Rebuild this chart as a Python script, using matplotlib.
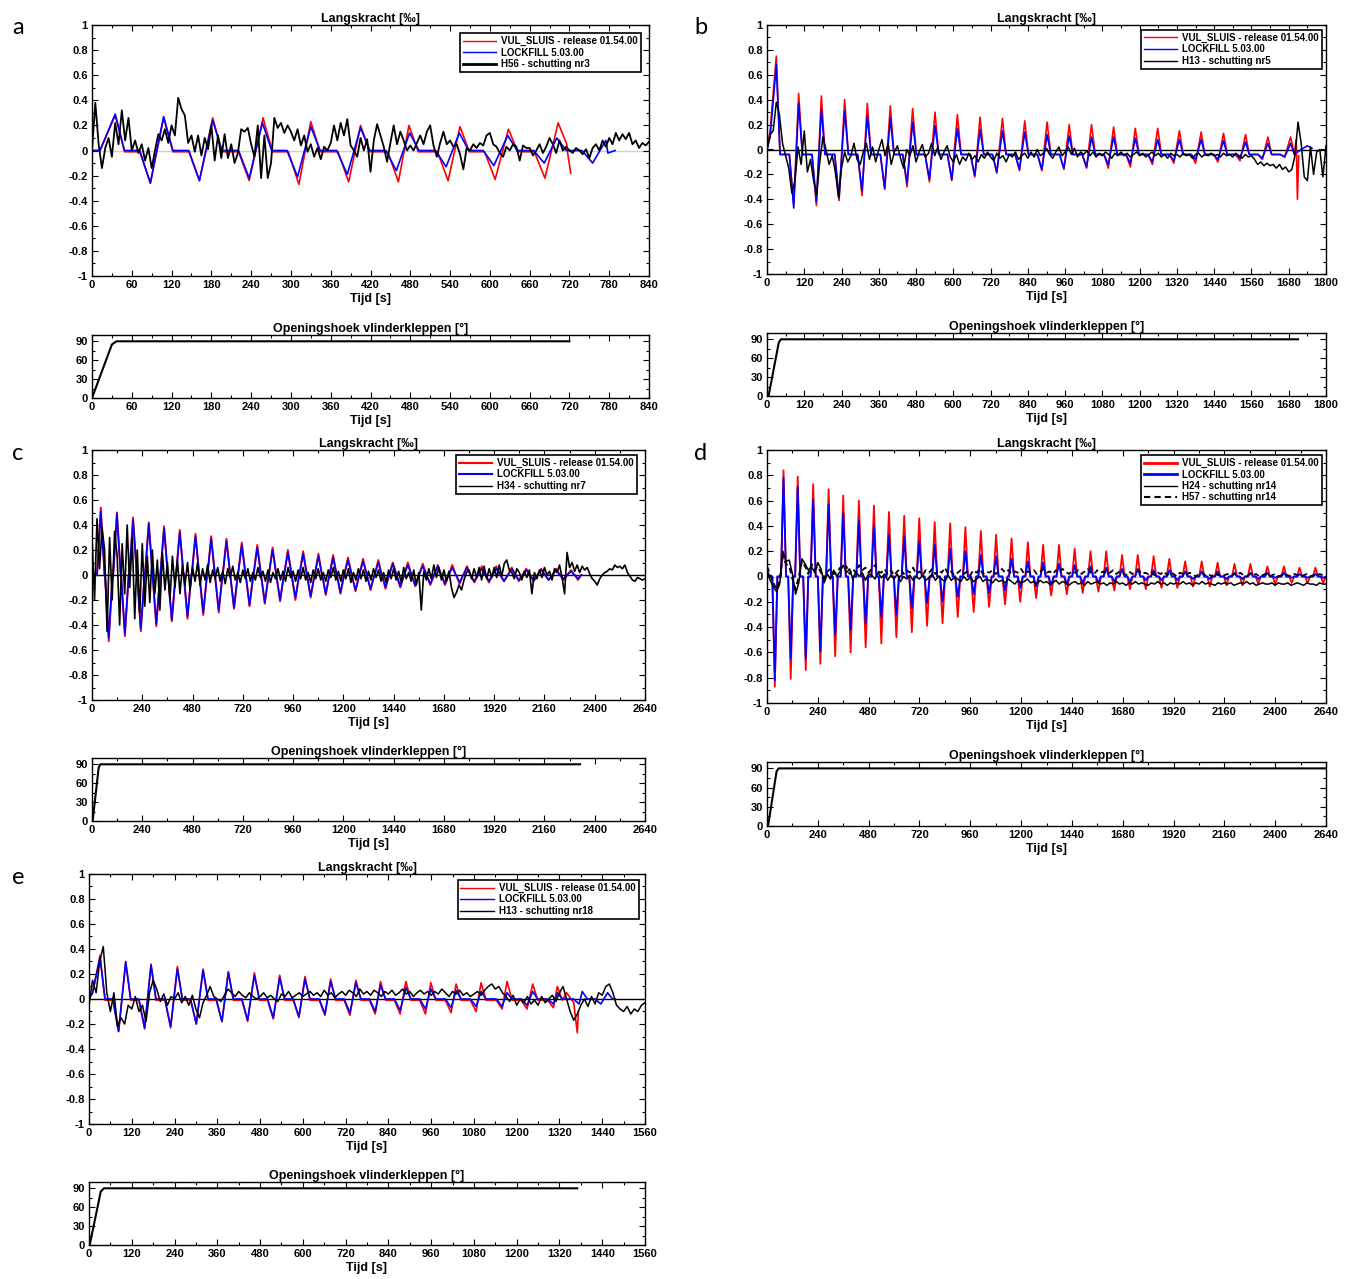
"""Langskracht en openingshoek vlinderkleppen: vijf schuttingen, VUL_SLUIS vs LOCKFILL vs meting."""

import matplotlib

matplotlib.use("Agg")
import matplotlib.pyplot as plt  # noqa: E402
import numpy as np  # noqa: E402
from matplotlib.lines import Line2D  # noqa: E402
from matplotlib.ticker import FuncFormatter, MultipleLocator  # noqa: E402

plt.rcParams["font.family"] = ["Liberation Sans", "DejaVu Sans"]
plt.rcParams["axes.unicode_minus"] = False

W, H = 1354, 1279

# ---------------------------------------------------------------- panel a (schutting nr3)
red_a_peak_t = [35, 108, 182, 258, 330, 405, 478, 555, 628, 703]
red_a_peak_v = [0.28, 0.26, 0.26, 0.26, 0.23, 0.20, 0.20, 0.19, 0.17, 0.22]
red_a_trough_t = [88, 162, 237, 312, 387, 462, 537, 608, 683]
red_a_trough_v = [-0.26, -0.24, -0.24, -0.27, -0.25, -0.25, -0.24, -0.23, -0.22]
red_a_start = [(0, 0.0), (12, 0.0)]
red_a_end = [(716, 0.05), (722, -0.18)]

blue_a_peak_t = [35, 108, 182, 257, 330, 405, 479, 554, 627, 701, 775]
blue_a_peak_v = [0.29, 0.27, 0.24, 0.22, 0.19, 0.18, 0.14, 0.14, 0.12, 0.10, 0.08]
blue_a_trough_t = [88, 162, 237, 310, 385, 459, 534, 606, 682, 755]
blue_a_trough_v = [-0.26, -0.24, -0.22, -0.21, -0.19, -0.16, -0.13, -0.12, -0.10, -0.10]
blue_a_start = [(0, 0.0), (12, 0.0)]
blue_a_end = [(778, -0.02)]

black_a = [
    0.00, 0.38, 0.05, -0.14, 0.02, 0.10, -0.05, 0.22, 0.05, 0.32, 0.08, 0.26,
    0.00, 0.08, -0.02, 0.05, -0.08, 0.02, -0.14, 0.00, 0.13, 0.08, 0.17, 0.06,
    0.20, 0.12, 0.42, 0.33, 0.28, 0.06, 0.12, -0.01, 0.12, -0.04, 0.10, 0.01,
    0.20, -0.08, 0.12, -0.06, 0.13, -0.06, 0.05, -0.10, -0.02, 0.17, 0.15, 0.18,
    0.05, -0.05, 0.20, -0.22, 0.12, -0.22, -0.10, 0.26, 0.18, 0.22, 0.14, 0.20,
    0.15, 0.08, 0.17, 0.04, 0.12, -0.01, 0.05, -0.05, 0.02, -0.07, 0.03, 0.00,
    0.06, 0.20, 0.08, 0.22, 0.12, 0.25, 0.04, 0.00, -0.05, 0.10, 0.00, 0.09,
    -0.17, 0.08, 0.21, 0.12, 0.03, -0.09, 0.06, 0.20, 0.05, 0.15, 0.08, 0.00,
    0.04, 0.00, 0.06, 0.12, 0.05, 0.15, 0.20, 0.04, -0.05, 0.06, 0.15, 0.05,
    0.08, 0.03, 0.05, -0.03, -0.15, 0.02, 0.00, 0.05, 0.02, 0.06, 0.04, 0.12,
    0.14, 0.05, 0.03, -0.02, -0.05, 0.03, 0.00, 0.05, 0.03, -0.08, 0.04, 0.02,
    0.02, -0.04, 0.00, 0.05, -0.02, 0.03, 0.10, 0.05, -0.02, 0.08, 0.00, 0.03,
    0.00, -0.02, 0.02, 0.00, -0.03, 0.01, -0.06, 0.02, 0.05, 0.00, 0.08, 0.03,
    0.10, 0.05, 0.14, 0.08, 0.13, 0.09, 0.14, 0.05, 0.08, 0.02, 0.06, 0.04,
    0.07,
]
angle_a_t = [0, 30, 37, 720]
angle_a_v = [0, 85, 90, 90]

# ---------------------------------------------------------------- panel b (schutting nr5)
peak_b_t = [30, 102, 175, 250, 323, 397, 469, 541, 613, 686, 758, 830,
            902, 973, 1045, 1116, 1186, 1258, 1328, 1398, 1470, 1541, 1613, 1686]
trough_b_t = [86, 159, 232, 306, 379, 451, 523, 595, 669, 740, 813, 885,
              956, 1029, 1099, 1170, 1241, 1310, 1380, 1452, 1523, 1595, 1667]
red_b_peak_v = [0.75, 0.45, 0.43, 0.40, 0.37, 0.35, 0.33, 0.30, 0.28, 0.26, 0.25, 0.23,
                0.22, 0.20, 0.20, 0.18, 0.17, 0.17, 0.15, 0.14, 0.13, 0.12, 0.10, 0.10]
red_b_trough_v = [-0.44, -0.45, -0.41, -0.37, -0.32, -0.30, -0.26, -0.25, -0.22, -0.19, -0.17, -0.17,
                  -0.16, -0.15, -0.15, -0.14, -0.12, -0.11, -0.11, -0.10, -0.09, -0.08, -0.06]
red_b_start = [(0, 0.0), (10, 0.15)]
red_b_end = [(1704, 0.08), (1708, -0.40), (1712, -0.05)]
blue_b_peak_v = [0.68, 0.37, 0.32, 0.31, 0.27, 0.25, 0.22, 0.19, 0.17, 0.16, 0.15, 0.14,
                 0.12, 0.11, 0.10, 0.10, 0.09, 0.08, 0.08, 0.08, 0.07, 0.06, 0.05, 0.05]
blue_b_trough_v = [-0.47, -0.42, -0.39, -0.33, -0.31, -0.27, -0.24, -0.24, -0.21, -0.18, -0.16, -0.16,
                   -0.15, -0.14, -0.12, -0.11, -0.10, -0.09, -0.08, -0.08, -0.07, -0.07, -0.06]
blue_b_start = [(0, 0.0), (10, 0.10)]
blue_b_end = [(1720, 0.0), (1740, 0.03), (1755, 0.01)]

black_b = [
    0.00, 0.12, 0.15, 0.38, 0.28, 0.05,
    -0.05, -0.15, -0.35, -0.25, 0.02, -0.12,
    0.15, -0.18, -0.08, -0.25, -0.36, -0.10,
    0.10, 0.00, -0.12, -0.05, -0.18, -0.38,
    -0.15, -0.02, -0.10, -0.05, 0.05, -0.08,
    -0.12, -0.02, 0.05, -0.08, 0.02, -0.10,
    0.00, 0.08, -0.05, 0.05, -0.12, -0.02,
    0.03, -0.07, -0.15, 0.00, -0.05, 0.03,
    -0.10, -0.02, 0.04, -0.06, -0.03, 0.05,
    -0.05, 0.02, -0.08, -0.02, 0.03, -0.06,
    -0.10, -0.04, -0.12, -0.06, -0.09, -0.03,
    -0.08, -0.05, -0.10, -0.04, -0.07, -0.02,
    -0.06, -0.09, -0.03, -0.07, -0.05, -0.10,
    -0.04, -0.06, -0.02, -0.08, -0.05, -0.03,
    -0.07, -0.02, -0.06, 0.00, -0.05, -0.03,
    0.01, -0.04, -0.07, -0.02, 0.02, -0.05,
    -0.02, 0.02, -0.04, 0.01, -0.06, -0.02,
    -0.04, -0.01, -0.05, -0.02, -0.06, -0.03,
    -0.05, -0.02, -0.04, -0.07, -0.03, -0.05,
    -0.02, -0.05, -0.03, -0.06, -0.04, -0.02,
    -0.05, -0.03, -0.06, -0.04, -0.02, -0.05,
    -0.03, -0.06, -0.04, -0.07, -0.03, -0.05,
    -0.04, -0.06, -0.03, -0.05, -0.04, -0.07,
    -0.04, -0.03, -0.06, -0.04, -0.05, -0.03,
    -0.05, -0.04, -0.06, -0.03, -0.05, -0.04,
    -0.06, -0.03, -0.05, -0.07, -0.04, -0.06,
    -0.05, -0.08, -0.12, -0.10, -0.13, -0.11,
    -0.13, -0.12, -0.15, -0.12, -0.16, -0.14,
    -0.18, -0.16, -0.05, 0.22, 0.05, -0.22,
    -0.25, 0.02, -0.20, -0.02, 0.00, -0.22,
    0.03,
]
angle_b_t = [5, 38, 45, 1710]
angle_b_v = [0, 85, 90, 90]

# ---------------------------------------------------------------- panel c (schutting nr7)
peak_c_t = [42, 119, 196, 271, 344, 419, 494, 569, 642, 715, 789, 862, 935, 1008, 1081, 1151,
            1222, 1294, 1367, 1436, 1508, 1579, 1651, 1720, 1790, 1861, 1930, 2004, 2073, 2145, 2216, 2287]
trough_c_t = [80, 157, 233, 307, 381, 456, 531, 605, 678, 752, 825, 898, 971, 1044, 1116, 1186,
              1258, 1330, 1401, 1472, 1543, 1615, 1685, 1755, 1825, 1895, 1967, 2038, 2109, 2180, 2251, 2320]
red_c_peak_v = [0.54, 0.50, 0.46, 0.42, 0.39, 0.36, 0.33, 0.31, 0.29, 0.26, 0.24, 0.22, 0.20, 0.19, 0.17, 0.16,
                0.14, 0.13, 0.12, 0.10, 0.10, 0.09, 0.08, 0.08, 0.07, 0.07, 0.07, 0.06, 0.05, 0.05, 0.05, 0.04]
red_c_trough_v = [-0.53, -0.49, -0.45, -0.41, -0.37, -0.35, -0.32, -0.30, -0.27, -0.25, -0.23, -0.21,
                  -0.20, -0.18, -0.16, -0.15, -0.13, -0.12, -0.11, -0.10, -0.09, -0.08, -0.08, -0.07,
                  -0.06, -0.06, -0.05, -0.05, -0.05, -0.04, -0.04, -0.04]
blue_c_peak_v = [0.51, 0.49, 0.44, 0.41, 0.37, 0.34, 0.31, 0.29, 0.27, 0.24, 0.22, 0.20, 0.18, 0.17, 0.15, 0.14,
                 0.12, 0.11, 0.10, 0.09, 0.08, 0.07, 0.07, 0.06, 0.06, 0.05, 0.05, 0.05, 0.04, 0.04, 0.04, 0.03]
blue_c_trough_v = [-0.50, -0.47, -0.43, -0.39, -0.36, -0.33, -0.30, -0.28, -0.26, -0.24, -0.22, -0.20,
                   -0.18, -0.17, -0.15, -0.14, -0.12, -0.11, -0.10, -0.09, -0.08, -0.07, -0.07, -0.06,
                   -0.05, -0.05, -0.05, -0.04, -0.04, -0.04, -0.03, -0.03]
sim_c_start = [(0, 0.0)]
sim_c_end = [(2335, 0.0)]

black_c = [
    0.30, -0.20, 0.45, 0.05, 0.38, 0.20, -0.45, 0.30, -0.20, 0.35,
    0.15, -0.40, 0.25, -0.15, 0.40, -0.10, 0.30, -0.35, 0.20, -0.30,
    0.25, -0.25, 0.15, -0.22, 0.20, -0.15, 0.12, -0.28, 0.18, -0.12,
    0.10, -0.20, 0.15, -0.10, 0.12, -0.15, 0.08, -0.08, 0.10, -0.12,
    0.06, -0.05, 0.10, -0.08, 0.05, -0.04, 0.08, -0.06, 0.04, -0.03,
    0.06, -0.05, 0.03, -0.07, 0.05, -0.02, 0.07, -0.04, 0.02, -0.06,
    0.04, -0.03, 0.05, -0.05, 0.02, -0.04, 0.06, -0.02, 0.03, -0.05,
    0.04, -0.06, 0.02, -0.03, 0.05, -0.04, 0.03, -0.05, 0.06, -0.02,
    0.03, -0.05, 0.04, -0.03, 0.06, -0.04, 0.02, -0.06, 0.04, -0.03,
    0.05, -0.04, 0.02, -0.05, 0.04, -0.02, 0.06, -0.04, 0.03, -0.05,
    0.04, -0.03, 0.05, -0.06, 0.02, -0.04, 0.05, -0.03, 0.04, -0.05,
    0.03, -0.04, 0.05, -0.02, 0.04, -0.05, 0.02, -0.06, 0.04, -0.03,
    0.05, -0.04, 0.03, -0.06, 0.06, -0.03, 0.02, -0.05, 0.04, -0.08,
    0.02, -0.28, 0.03, -0.04, 0.05, -0.03, 0.08, -0.02, 0.06, -0.04,
    0.04, -0.05, 0.03, -0.10, -0.18, -0.14, -0.08, -0.12, -0.04, 0.02,
    0.04, -0.03, 0.05, -0.02, 0.06, -0.04, 0.07, -0.03, 0.05, -0.02,
    0.06, -0.02, 0.08, -0.01, 0.09, 0.12, 0.04, 0.02, -0.03, 0.05,
    0.02, -0.04, 0.03, -0.02, 0.04, -0.15, 0.02, -0.03, 0.04, -0.02,
    0.06, 0.00, 0.03, -0.04, 0.05, 0.02, 0.08, -0.02, -0.15, 0.18,
    0.06, 0.10, 0.03, 0.08, 0.02, 0.07, 0.04, 0.06, 0.01, -0.03,
    -0.05, -0.08, -0.03, 0.00, 0.02, 0.03, 0.05, 0.04, 0.08, 0.06,
    0.07, 0.05, 0.08, 0.02, -0.01, -0.04, -0.05, -0.02, -0.03, -0.04,
    -0.03,
]
angle_c_t = [3, 32, 40, 2330]
angle_c_v = [0, 85, 90, 90]

# ---------------------------------------------------------------- panel d (schutting nr14)
peak_d_t = [78, 145, 218, 291, 360, 434, 505, 576, 648, 719, 792, 865, 937, 1010, 1082, 1155, 1232, 1304,
            1379, 1453, 1528, 1602, 1677, 1751, 1826, 1900, 1975, 2053, 2128, 2208, 2283, 2363, 2441, 2515, 2590]
trough_d_t = [37, 112, 183, 252, 322, 395, 466, 540, 611, 684, 756, 829, 901, 976, 1049, 1124, 1196, 1271,
              1342, 1416, 1491, 1565, 1640, 1714, 1789, 1863, 1938, 2012, 2091, 2170, 2245, 2320, 2400, 2478, 2553, 2627]
red_d_peak_v = [0.84, 0.79, 0.73, 0.69, 0.64, 0.60, 0.56, 0.51, 0.48, 0.46, 0.43, 0.42, 0.39, 0.36, 0.33, 0.30,
                0.27, 0.25, 0.25, 0.22, 0.20, 0.20, 0.17, 0.17, 0.16, 0.14, 0.12, 0.12, 0.11, 0.10, 0.10, 0.08,
                0.08, 0.07, 0.07]
red_d_trough_v = [-0.87, -0.81, -0.74, -0.69, -0.63, -0.60, -0.56, -0.53, -0.48, -0.44, -0.39, -0.37,
                  -0.32, -0.28, -0.24, -0.22, -0.20, -0.17, -0.15, -0.14, -0.13, -0.12, -0.11, -0.10,
                  -0.10, -0.09, -0.09, -0.08, -0.08, -0.07, -0.07, -0.06, -0.06, -0.05, -0.05, -0.05]
blue_d_peak_v = [0.78, 0.71, 0.61, 0.57, 0.50, 0.44, 0.40, 0.33, 0.31, 0.28, 0.25, 0.22, 0.20, 0.17, 0.16, 0.14,
                 0.12, 0.11, 0.10, 0.09, 0.08, 0.07, 0.06, 0.06, 0.05, 0.05, 0.04, 0.04, 0.04, 0.03, 0.03, 0.03,
                 0.03, 0.02, 0.02]
blue_d_trough_v = [-0.82, -0.65, -0.65, -0.59, -0.46, -0.42, -0.37, -0.32, -0.30, -0.25, -0.21, -0.20,
                   -0.16, -0.14, -0.13, -0.11, -0.09, -0.08, -0.07, -0.06, -0.05, -0.05, -0.04, -0.04,
                   -0.03, -0.03, -0.03, -0.02, -0.02, -0.02, -0.02, -0.02, -0.01, -0.01, -0.01, -0.01]
sim_d_start = [(0, 0.05), (12, 0.0)]
sim_d_end = [(2640, 0.0)]

black_d_h24 = [
    0.05, -0.03, -0.08, -0.12, -0.06, 0.20, 0.12, 0.13, 0.02, -0.14, -0.05, 0.14,
    0.10, 0.05, 0.08, 0.03, 0.11, 0.06, -0.05, 0.02, -0.02, 0.05, 0.00, 0.04,
    0.09, 0.03, 0.06, -0.02, 0.04, 0.00, 0.03, -0.03, 0.02, 0.01, -0.02, 0.03,
    -0.01, 0.02, -0.03, 0.01, -0.02, 0.02, -0.04, 0.00, -0.02, 0.01, -0.03, 0.00,
    -0.02, 0.01, -0.03, -0.01, 0.02, -0.03, 0.00, -0.02, -0.04, 0.01, -0.03, -0.01,
    -0.02, -0.04, 0.00, -0.03, -0.01, -0.04, -0.02, 0.00, -0.04, -0.02, -0.03, -0.05,
    -0.02, -0.04, -0.03, -0.05, -0.02, -0.04, -0.06, -0.03, -0.05, -0.04, -0.02, -0.05,
    -0.04, -0.06, -0.03, -0.05, -0.04, -0.06, -0.05, -0.03, -0.06, -0.04, -0.05, -0.07,
    -0.05, -0.04, -0.06, -0.05, -0.07, -0.04, -0.06, -0.05, -0.04, -0.06, -0.05, -0.07,
    -0.05, -0.06, -0.04, -0.06, -0.05, -0.07, -0.05, -0.06, -0.04, -0.06, -0.05, -0.06,
    -0.07, -0.05, -0.06, -0.04, -0.06, -0.05, -0.07, -0.05, -0.06, -0.05, -0.06, -0.04,
    -0.06, -0.05, -0.07, -0.05, -0.06, -0.04, -0.06, -0.05, -0.06, -0.07, -0.05, -0.06,
    -0.05, -0.06, -0.05, -0.07, -0.06, -0.05, -0.06, -0.04, -0.06, -0.05, -0.07, -0.06,
    -0.05, -0.06, -0.06, -0.05, -0.07, -0.05, -0.06, -0.06, -0.05, -0.07, -0.06, -0.05,
    -0.06, -0.07, -0.05, -0.06, -0.06, -0.07, -0.05, -0.06,
    -0.06,
]
black_d_h57 = [
    0.08, 0.02, -0.05, -0.10, -0.02, 0.16, 0.10, 0.08, -0.02, -0.10, 0.00, 0.12,
    0.08, 0.02, 0.10, 0.05, 0.08, 0.03, -0.02, 0.04, 0.06, 0.02, 0.03, 0.07,
    0.05, 0.08, 0.02, 0.06, 0.03, 0.09, 0.05, 0.07, 0.03, 0.06, 0.09, 0.04,
    0.03, 0.06, 0.02, 0.05, 0.01, 0.04, 0.06, 0.02, 0.05, 0.03, 0.07, 0.02,
    0.04, 0.01, 0.05, 0.03, 0.06, 0.02, 0.05, 0.03, 0.07, 0.02, 0.04, 0.01,
    0.03, 0.05, 0.02, 0.04, 0.01, 0.05, 0.03, 0.06, 0.02, 0.04, 0.03, 0.05,
    0.02, 0.04, 0.06, 0.03, 0.05, 0.02, 0.04, 0.03, 0.06, 0.02, 0.04, 0.03,
    0.05, 0.02, 0.04, 0.06, 0.03, 0.04, 0.02, 0.05, 0.03, 0.06, 0.04, 0.02,
    0.04, 0.03, 0.05, 0.02, 0.04, 0.06, 0.03, 0.02, 0.05, 0.03, 0.04, 0.02,
    0.03, 0.05, 0.02, 0.04, 0.03, 0.01, 0.04, 0.02, 0.03, 0.05, 0.02, 0.03,
    0.02, 0.04, 0.01, 0.03, 0.02, 0.04, 0.01, 0.03, 0.02, 0.00, 0.03, 0.02,
    0.01, 0.03, 0.02, 0.00, 0.02, 0.03, 0.01, 0.02, 0.00, 0.03, 0.01, 0.02,
    0.01, 0.02, 0.00, 0.02, 0.01, 0.03, 0.01, 0.00, 0.02, 0.01, 0.02, 0.00,
    0.01, 0.02, 0.00, 0.01, 0.02, 0.00, 0.01, 0.02, 0.01, 0.00, 0.02, 0.01,
    0.00, 0.01, 0.02, 0.00, 0.01, 0.00, 0.02, 0.01,
    0.01,
]
angle_d_t = [5, 45, 55, 2640]
angle_d_v = [0, 85, 90, 90]

# ---------------------------------------------------------------- panel e (schutting nr18)
red_e_peak_t = [31, 103, 174, 248, 320, 391, 464, 535, 606, 678, 749, 818, 889, 959, 1030, 1100, 1173, 1245, 1314]
red_e_peak_v = [0.35, 0.29, 0.28, 0.26, 0.24, 0.22, 0.21, 0.19, 0.18, 0.16, 0.15, 0.14, 0.14, 0.13, 0.12,
                0.13, 0.14, 0.12, 0.10]
red_e_trough_t = [83, 156, 229, 301, 373, 445, 517, 589, 662, 732, 803, 873, 944, 1016, 1086, 1159, 1229, 1303]
red_e_trough_v = [-0.26, -0.24, -0.23, -0.20, -0.18, -0.18, -0.16, -0.15, -0.13, -0.13, -0.12, -0.12,
                  -0.12, -0.11, -0.10, -0.08, -0.08, -0.07]
red_e_start = [(0, 0.0), (10, 0.05)]
red_e_end = [(1340, 0.05), (1360, -0.03), (1370, -0.27), (1373, -0.10)]

blue_e_peak_t = [31, 103, 174, 248, 320, 391, 464, 535, 606, 678, 749, 818, 889, 959, 1030, 1100,
                 1173, 1245, 1314, 1384, 1455]
blue_e_peak_v = [0.33, 0.30, 0.27, 0.24, 0.23, 0.21, 0.19, 0.17, 0.16, 0.14, 0.13, 0.11, 0.09, 0.08, 0.07,
                 0.06, 0.05, 0.06, 0.05, 0.06, 0.05]
blue_e_trough_t = [83, 156, 229, 301, 373, 445, 517, 589, 662, 732, 803, 873, 944, 1016, 1086, 1159,
                   1229, 1303, 1375, 1436]
blue_e_trough_v = [-0.26, -0.23, -0.22, -0.20, -0.18, -0.17, -0.15, -0.14, -0.12, -0.11, -0.10, -0.09,
                   -0.08, -0.07, -0.06, -0.06, -0.05, -0.04, -0.04, -0.04]
blue_e_start = [(0, 0.0), (10, 0.05)]
blue_e_end = [(1476, 0.0)]

black_e = [
    -0.05, 0.15, 0.05, 0.30, 0.42, 0.05, -0.10, 0.05, -0.22, -0.15, -0.20, -0.05,
    -0.08, 0.02, -0.10, -0.05, -0.18, 0.05, 0.15, 0.08, -0.02, 0.04, -0.05, 0.02,
    0.00, 0.05, -0.03, 0.02, -0.05, 0.03, -0.08, -0.15, -0.03, 0.03, 0.10, 0.02,
    0.00, -0.02, 0.03, 0.08, 0.05, 0.02, 0.06, 0.03, 0.01, 0.05, 0.02, 0.00,
    0.02, 0.05, 0.01, 0.03, 0.00, -0.02, 0.04, 0.02, 0.06, 0.01, 0.03, 0.05,
    0.02, 0.04, 0.06, 0.03, 0.05, 0.02, 0.07, 0.03, 0.05, 0.01, 0.04, 0.06,
    0.03, 0.07, 0.05, 0.02, 0.08, 0.04, 0.06, 0.03, 0.07, 0.05, 0.02, 0.06,
    0.04, 0.07, 0.03, 0.05, 0.08, 0.04, 0.06, 0.02, 0.05, 0.07, 0.04, 0.06,
    0.03, 0.06, 0.04, 0.08, 0.05, 0.02, 0.06, 0.04, 0.07, 0.03, 0.05, 0.02,
    0.04, 0.06, 0.03, 0.07, 0.10, 0.12, 0.08, 0.10, 0.05, 0.02, -0.02, 0.03,
    -0.05, 0.00, -0.03, 0.02, -0.04, -0.01, -0.05, 0.02, -0.03, 0.00, 0.03, -0.02,
    0.05, 0.10, 0.00, -0.10, -0.17, -0.12, -0.05, 0.00, -0.06, 0.02, -0.04, 0.05,
    0.03, 0.10, 0.12, 0.05, -0.05, -0.08, -0.10, -0.06, -0.12, -0.08, -0.10, -0.05,
    -0.03,
]
angle_e_t = [2, 33, 42, 1370]
angle_e_v = [0, 85, 90, 90]

RED, BLUE, BLACK = "#ff0000", "#0000ff", "#000000"


def spike_line(start, peak_t, peak_v, trough_t, trough_v, end, level, peak_pad, trough_pad):
    """Polyline through read extremes; pads place the flat level either side of a spike."""
    pts = list(start) + list(end)
    for ts, vs, (before, after) in ((peak_t, peak_v, peak_pad), (trough_t, trough_v, trough_pad)):
        for t, v in zip(ts, vs):
            pts.append((t, v))
            if before:
                pts.append((t - before, level))
            if after:
                pts.append((t + after, level))
    pts.sort()
    t, y = zip(*pts)
    return np.array(t), np.array(y)


def rect(l, t, r, b):
    return [l / W, 1 - b / H, (r - l) / W, (b - t) / H]


tick_fmt = FuncFormatter(lambda v, _: f"{round(v, 6):g}")


def style_axes(ax, xmax, major, ymajor, yminor, ylim):
    ax.set_xlim(0, xmax)
    ax.set_ylim(*ylim)
    ax.xaxis.set_major_locator(MultipleLocator(major))
    ax.xaxis.set_minor_locator(MultipleLocator(major / 2))
    ax.yaxis.set_major_locator(MultipleLocator(ymajor))
    ax.yaxis.set_minor_locator(MultipleLocator(yminor))
    ax.yaxis.set_major_formatter(tick_fmt)
    ax.tick_params(which="both", direction="in", top=True, right=True, width=0.8,
                   labelsize=8, pad=3)
    ax.tick_params(which="major", length=4)
    ax.tick_params(which="minor", length=2.2)
    for lab in ax.get_xticklabels() + ax.get_yticklabels():
        lab.set_fontweight("bold")
    for sp in ax.spines.values():
        sp.set_linewidth(1.0)
    ax.set_xlabel("Tijd [s]", fontsize=9, fontweight="bold", labelpad=2)


def panel(fig, main_box, sub_box, xmax, major, lines, legend, anchor, zero_color,
          angle_t, angle_v, letter, letter_xy):
    ax = fig.add_axes(rect(*main_box))
    ax.axhline(0, color=zero_color, lw=1.0, zorder=1)
    for t, y, kw in lines:
        ax.plot(t, y, zorder=2, **kw)
    style_axes(ax, xmax, major, 0.2, 0.1, (-1, 1))
    ax.set_title("Langskracht [‰]", fontsize=9, fontweight="bold", pad=2)
    handles = [Line2D([], [], **kw) for kw in legend]
    leg = ax.legend(handles=handles, loc="upper right", bbox_to_anchor=anchor, borderaxespad=0,
                    prop={"weight": "bold", "size": 7}, handlelength=3.4,
                    handletextpad=0.6, labelspacing=0.15, borderpad=0.3, fancybox=False,
                    framealpha=1)
    leg.get_frame().set_edgecolor("black")
    leg.get_frame().set_linewidth(1.2)

    sub = fig.add_axes(rect(*sub_box))
    sub.plot(angle_t, angle_v, color=BLACK, lw=1.5)
    style_axes(sub, xmax, major, 30, 15, (0, 100))
    sub.set_title("Openingshoek vlinderkleppen [°]", fontsize=9, fontweight="bold", pad=2)

    fig.text(letter_xy[0] / W, 1 - letter_xy[1] / H, letter, fontsize=17,
             family=["Lato", "DejaVu Sans"], va="center", ha="left")


fig = plt.figure(figsize=(W / 100, H / 100), dpi=100)

# a
t_ra, y_ra = spike_line(red_a_start, red_a_peak_t, red_a_peak_v, red_a_trough_t, red_a_trough_v,
                        red_a_end, -0.01, (None, 14), (16, None))
t_ba, y_ba = spike_line(blue_a_start, blue_a_peak_t, blue_a_peak_v, blue_a_trough_t, blue_a_trough_v,
                        blue_a_end, 0.0, (None, 14), (16, None))
t_ka = np.linspace(0, 840, len(black_a))
panel(fig, (92, 25, 649, 276), (92, 335, 649, 398), 840, 60,
      [(t_ra, y_ra, dict(color=RED, lw=1.2)), (t_ba, y_ba, dict(color=BLUE, lw=1.2)),
       (t_ka, black_a, dict(color=BLACK, lw=1.3))],
      [dict(color=RED, lw=1, label="VUL_SLUIS - release 01.54.00"),
       dict(color=BLUE, lw=1, label="LOCKFILL 5.03.00"),
       dict(color=BLACK, lw=2, label="H56 - schutting nr3")],
      (0.9856, 0.968), "#d0d0d0", angle_a_t, angle_a_v, "a", (12, 28))

# b
t_rb, y_rb = spike_line(red_b_start, peak_b_t, red_b_peak_v, trough_b_t, red_b_trough_v,
                        red_b_end, -0.04, (None, 12), (14, None))
t_bb, y_bb = spike_line(blue_b_start, peak_b_t, blue_b_peak_v, trough_b_t, blue_b_trough_v,
                        blue_b_end, -0.04, (None, 12), (14, None))
t_kb = np.linspace(0, 1800, len(black_b))
panel(fig, (767, 25, 1326, 274), (767, 333, 1326, 396), 1800, 120,
      [(t_rb, y_rb, dict(color=RED, lw=1.2)), (t_bb, y_bb, dict(color=BLUE, lw=1.2)),
       (t_kb, black_b, dict(color=BLACK, lw=1.1))],
      [dict(color=RED, lw=1, label="VUL_SLUIS - release 01.54.00"),
       dict(color=BLUE, lw=1, label="LOCKFILL 5.03.00"),
       dict(color=BLACK, lw=1, label="H13 - schutting nr5")],
      (0.9928, 0.980), BLACK, angle_b_t, angle_b_v, "b", (694, 28))

# c
t_rc, y_rc = spike_line(sim_c_start, peak_c_t, red_c_peak_v, trough_c_t, red_c_trough_v,
                        sim_c_end, 0.0, (18, 18), (18, 18))
t_bc, y_bc = spike_line(sim_c_start, peak_c_t, blue_c_peak_v, trough_c_t, blue_c_trough_v,
                        sim_c_end, 0.0, (18, 18), (18, 18))
t_kc = np.linspace(0, 2640, len(black_c))
panel(fig, (92, 450, 645, 700), (92, 758, 645, 821), 2640, 240,
      [(t_rc, y_rc, dict(color=RED, lw=1.4)), (t_bc, y_bc, dict(color=BLUE, lw=1.2)),
       (t_kc, black_c, dict(color=BLACK, lw=1.2))],
      [dict(color=RED, lw=1.5, label="VUL_SLUIS - release 01.54.00"),
       dict(color=BLUE, lw=1.5, label="LOCKFILL 5.03.00"),
       dict(color=BLACK, lw=1, label="H34 - schutting nr7")],
      (0.9855, 0.980), BLACK, angle_c_t, angle_c_v, "c", (12, 453))

# d
t_rd, y_rd = spike_line(sim_d_start, peak_d_t, red_d_peak_v, trough_d_t, red_d_trough_v,
                        sim_d_end, 0.0, (12, 12), (12, 12))
t_bd, y_bd = spike_line(sim_d_start, peak_d_t, blue_d_peak_v, trough_d_t, blue_d_trough_v,
                        sim_d_end, 0.0, (12, 12), (12, 12))
t_kd = np.linspace(0, 2640, len(black_d_h24))
panel(fig, (767, 450, 1326, 703), (767, 762, 1326, 826), 2640, 240,
      [(t_rd, y_rd, dict(color=RED, lw=1.3)), (t_bd, y_bd, dict(color=BLUE, lw=1.3)),
       (t_kd, black_d_h24, dict(color=BLACK, lw=1.1)),
       (t_kd, black_d_h57, dict(color=BLACK, lw=1.3, ls=(0, (3, 2))))],
      [dict(color=RED, lw=2, label="VUL_SLUIS - release 01.54.00"),
       dict(color=BLUE, lw=2, label="LOCKFILL 5.03.00"),
       dict(color=BLACK, lw=1, label="H24 - schutting nr14"),
       dict(color=BLACK, lw=1.5, ls=(0, (3, 2)), label="H57 - schutting nr14")],
      (0.9928, 0.980), "#d0d0d0", angle_d_t, angle_d_v, "d", (694, 453))

# e
t_re, y_re = spike_line(red_e_start, red_e_peak_t, red_e_peak_v, red_e_trough_t, red_e_trough_v,
                        red_e_end, -0.01, (None, 14), (16, None))
t_be, y_be = spike_line(blue_e_start, blue_e_peak_t, blue_e_peak_v, blue_e_trough_t, blue_e_trough_v,
                        blue_e_end, 0.0, (None, 14), (16, None))
t_ke = np.linspace(0, 1560, len(black_e))
panel(fig, (89, 874, 645, 1124), (89, 1182, 645, 1245), 1560, 120,
      [(t_re, y_re, dict(color=RED, lw=1.2)), (t_be, y_be, dict(color=BLUE, lw=1.2)),
       (t_ke, black_e, dict(color=BLACK, lw=1.1))],
      [dict(color=RED, lw=1, label="VUL_SLUIS - release 01.54.00"),
       dict(color=BLUE, lw=1, label="LOCKFILL 5.03.00"),
       dict(color=BLACK, lw=1, label="H13 - schutting nr18")],
      (0.989, 0.976), BLACK, angle_e_t, angle_e_v, "e", (12, 878))

fig.savefig("out.png", dpi=100)
plt.close(fig)
